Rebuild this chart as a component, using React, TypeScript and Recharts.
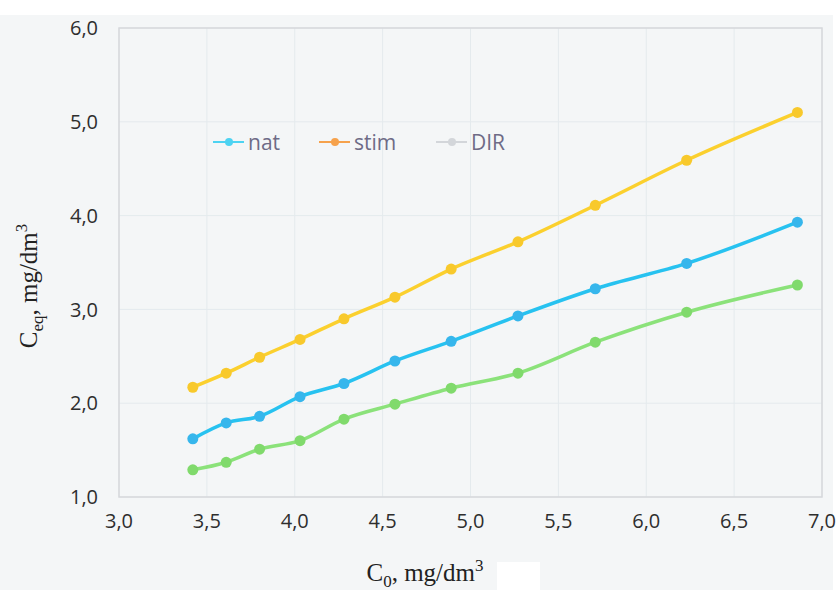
import {
  LineChart,
  Line,
  XAxis,
  YAxis,
  CartesianGrid,
  Legend,
  ReferenceArea,
} from "recharts";

const c0 = [3.42, 3.61, 3.8, 4.03, 4.28, 4.57, 4.89, 5.27, 5.71, 6.23, 6.86];
const stim = [2.17, 2.32, 2.49, 2.68, 2.9, 3.13, 3.43, 3.72, 4.11, 4.59, 5.1];
const nat = [1.62, 1.79, 1.86, 2.07, 2.21, 2.45, 2.66, 2.93, 3.22, 3.49, 3.93];
const dir = [1.29, 1.37, 1.51, 1.6, 1.83, 1.99, 2.16, 2.32, 2.65, 2.97, 3.26];

const xTicks = [3, 3.5, 4, 4.5, 5, 5.5, 6, 6.5, 7];
const yTicks = [1, 2, 3, 4, 5, 6];

const legendNames = ["nat", "stim", "DIR"];
const legendColors = ["#4dd3f2", "#f6a24c", "#d3d6da"];

const data = c0.map((x, i) => ({ x, stim: stim[i], nat: nat[i], dir: dir[i] }));

const fmt = (v: number) => v.toFixed(1).replace(".", ",");

const tickStyle = { fill: "#2e2e2e", fontSize: 20, fontFamily: "Open Sans" };

function renderLegend() {
  const starts = [13, 119, 236];
  return (
    <svg width={320} height={30}>
      {legendNames.map((name, i) => (
        <g key={name}>
          <line x1={starts[i]} x2={starts[i] + 31} y1={15} y2={15} stroke={legendColors[i]} strokeWidth={2} />
          <circle cx={starts[i] + 16} cy={15} r={4} fill={legendColors[i]} />
          <text
            x={starts[i] + 35}
            y={15}
            dominantBaseline="central"
            fontFamily="Open Sans"
            fontSize={21}
            fill="#6e6b86"
          >
            {name}
          </text>
        </g>
      ))}
    </svg>
  );
}

export default function App() {
  return (
    <div style={{ position: "absolute", left: 0, top: 0, width: 836, height: 590, background: "#fff" }}>
      <div style={{ position: "absolute", left: 0, top: 15, width: 833, height: 575, background: "#f4f6f7" }} />
      <div style={{ position: "absolute", left: 497, top: 562, width: 43, height: 28, background: "#fff" }} />
      <div style={{ position: "absolute", left: 0, top: 0 }}>
        <LineChart width={836} height={590} data={data} margin={{ top: 28, right: 14, left: 0, bottom: 0 }}>
          <CartesianGrid stroke="#e4eaed" strokeWidth={1} />
          <ReferenceArea x1={3} x2={7} y1={1} y2={6} fill="none" stroke="#d6d8dc" strokeWidth={1.5} ifOverflow="visible" />
          <XAxis
            dataKey="x"
            type="number"
            domain={[3, 7]}
            ticks={xTicks}
            tickFormatter={fmt}
            tick={tickStyle}
            axisLine={false}
            tickLine={false}
            tickSize={0}
            tickMargin={17}
            height={93}
            label={() => (
              <text x={425} y={581} textAnchor="middle" fontFamily="Liberation Serif" fontSize={25} fill="#222">
                <tspan>C</tspan>
                <tspan fontSize={17} dy={6}>0</tspan>
                <tspan dy={-6}>, mg/dm</tspan>
                <tspan fontSize={17} dy={-10}>3</tspan>
              </text>
            )}
          />
          <YAxis
            type="number"
            domain={[1, 6]}
            ticks={yTicks}
            tickFormatter={fmt}
            tick={tickStyle}
            axisLine={false}
            tickLine={false}
            tickSize={0}
            tickMargin={21}
            width={119}
            label={() => (
              <text
                x={37}
                y={286}
                transform="rotate(-90, 37, 286)"
                textAnchor="middle"
                fontFamily="Liberation Serif"
                fontSize={25}
                fill="#222"
              >
                <tspan>C</tspan>
                <tspan fontSize={17} dy={6}>eq</tspan>
                <tspan dy={-6}>, mg/dm</tspan>
                <tspan fontSize={17} dy={-10}>3</tspan>
              </text>
            )}
          />
          <Legend
            content={renderLegend}
            layout="horizontal"
            verticalAlign="middle"
            align="center"
            wrapperStyle={{ position: "absolute", left: 200, top: 127, width: 320, height: 30 }}
          />
          <Line
            dataKey="stim"
            name="stim"
            type="monotone"
            stroke="#fbd02e"
            strokeWidth={3.5}
            dot={{ r: 5.5, fill: "#f8c92c", stroke: "none" }}
            isAnimationActive={false}
          />
          <Line
            dataKey="nat"
            name="nat"
            type="monotone"
            stroke="#27c2f0"
            strokeWidth={3.5}
            dot={{ r: 5.5, fill: "#36b6ec", stroke: "none" }}
            isAnimationActive={false}
          />
          <Line
            dataKey="dir"
            name="DIR"
            type="monotone"
            stroke="#8be27a"
            strokeWidth={3.5}
            dot={{ r: 5.5, fill: "#80da6c", stroke: "none" }}
            isAnimationActive={false}
          />
        </LineChart>
      </div>
    </div>
  );
}
